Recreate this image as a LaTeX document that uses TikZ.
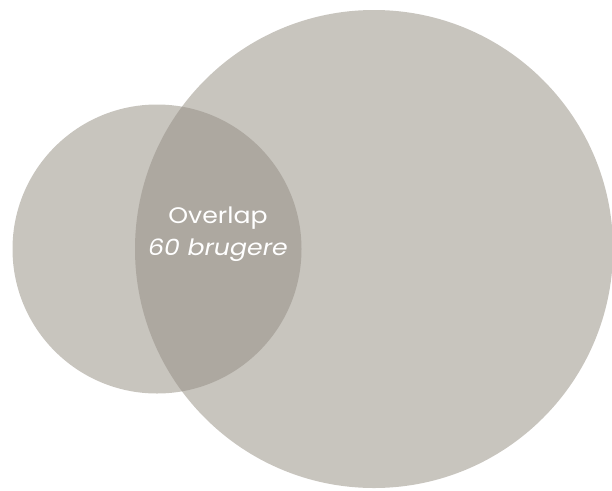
\documentclass[tikz,border=0pt]{standalone}
\usepackage{fontspec}
\setmainfont{Poppins}[FakeStretch=1.12]
\definecolor{circfill}{HTML}{C8C5BE}
\definecolor{lensfill}{HTML}{ADA8A0}
\begin{document}
\begin{tikzpicture}[x=1pt,y=-1pt,
  circ/.style={fill=circfill,draw=none},
  lens/.style={fill=lensfill,draw=none},
  lbl/.style={text=white,font=\fontsize{22.5}{32}\selectfont},
]
\useasboundingbox (0,0) rectangle (612,490);
\coordinate (cA) at (157,249);
\coordinate (cB) at (374,249);
\fill[circ] (cB) circle[radius=239];
\fill[circ] (cA) circle[radius=144.5];
\begin{scope}
  \clip (cA) circle[radius=144.5];
  \fill[lens] (cB) circle[radius=239];
\end{scope}
\node[lbl,align=center] (ov) at (218,234) {Overlap\\\itshape 60 brugere};
\end{tikzpicture}
\end{document}
